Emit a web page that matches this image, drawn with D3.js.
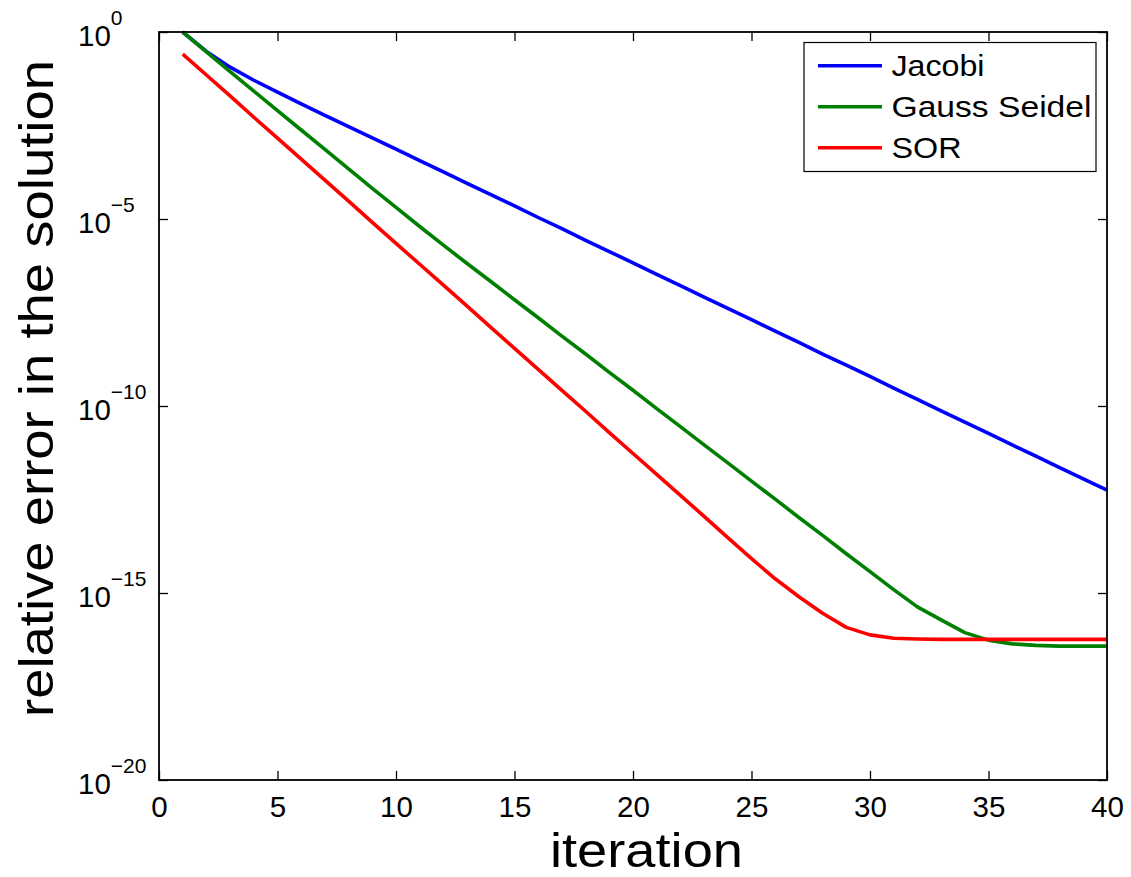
<!DOCTYPE html>
<html>
<head>
<meta charset="utf-8">
<script src="https://cdn.jsdelivr.net/npm/d3@7"></script>
<style>
  html, body { margin: 0; padding: 0; background: #fff; }
  svg { display: block; }
  text { font-family: "Liberation Sans", Arial, Helvetica, sans-serif; fill: #000; }
</style>
</head>
<body>
<svg id="chart" width="1131" height="877"></svg>
<script>
// Iteration counts
const iterations = [1, 2, 3, 4, 5, 6, 7, 8, 9, 10, 11, 12, 13, 14, 15, 16, 17, 18, 19, 20,
                    21, 22, 23, 24, 25, 26, 27, 28, 29, 30, 31, 32, 33, 34, 35, 36, 37, 38, 39, 40];

// log10 of the relative error in the solution, per method
const jacobiLog10 = [0, -0.52, -0.94, -1.29, -1.61, -1.92, -2.23, -2.53, -2.83, -3.13,
                     -3.44, -3.74, -4.05, -4.35, -4.65, -4.96, -5.26, -5.57, -5.87, -6.17,
                     -6.48, -6.78, -7.09, -7.39, -7.69, -8.00, -8.30, -8.61, -8.91, -9.21,
                     -9.52, -9.82, -10.13, -10.43, -10.73, -11.04, -11.34, -11.65, -11.95, -12.25];
const gaussSeidelLog10 = [0, -0.53, -1.06, -1.58, -2.10, -2.62, -3.14, -3.66, -4.18, -4.69,
                          -5.20, -5.70, -6.19, -6.67, -7.16, -7.64, -8.13, -8.61, -9.10, -9.58,
                          -10.07, -10.55, -11.04, -11.52, -12.01, -12.49, -12.98, -13.46, -13.95, -14.43,
                          -14.91, -15.37, -15.72, -16.06, -16.26, -16.36, -16.40, -16.42, -16.42, -16.42];
const sorLog10 = [-0.59, -1.15, -1.71, -2.28, -2.84, -3.40, -3.96, -4.52, -5.09, -5.65,
                  -6.21, -6.77, -7.33, -7.90, -8.46, -9.02, -9.58, -10.14, -10.71, -11.27,
                  -11.83, -12.39, -12.95, -13.52, -14.08, -14.62, -15.10, -15.54, -15.92, -16.12,
                  -16.21, -16.23, -16.24, -16.24, -16.24, -16.24, -16.24, -16.24, -16.24, -16.24];

const seriesNames = ["Jacobi", "Gauss Seidel", "SOR"];
const seriesColors = ["#0000ff", "#008000", "#ff0000"];

// Axis ticks
const xTicks = [0, 5, 10, 15, 20, 25, 30, 35, 40];
const yTickExponents = [0, -5, -10, -15, -20];

const svg = d3.select("#chart");
svg.append("rect").attr("width", 1131).attr("height", 877).attr("fill", "#fff");

const plotLeft = 159, plotRight = 1107, plotTop = 32, plotBottom = 780;

const x = d3.scaleLinear().domain([0, 40]).range([plotLeft, plotRight]);
const y = d3.scaleLog().domain([1e-20, 1]).range([plotBottom, plotTop]);

const series = [jacobiLog10, gaussSeidelLog10, sorLog10].map((vals, i) => ({
  name: seriesNames[i],
  color: seriesColors[i],
  points: iterations.map((it, j) => ({ it, v: Math.pow(10, vals[j]) }))
}));

// Lines
const line = d3.line().x(d => x(d.it)).y(d => y(d.v));
svg.append("g").selectAll("path").data(series).join("path")
  .attr("d", d => line(d.points))
  .attr("fill", "none")
  .attr("stroke", d => d.color)
  .attr("stroke-width", 3.6)
  .attr("stroke-linejoin", "round");

const yTickValues = yTickExponents.map(e => Math.pow(10, e));
const tickLen = 9;

// Bottom axis with labels
const gx = svg.append("g").attr("transform", `translate(0,${plotBottom})`)
  .call(d3.axisBottom(x).tickValues(xTicks).tickSize(-tickLen).tickSizeOuter(0).tickPadding(16.5).tickFormat(d3.format("d")));
gx.selectAll("text").attr("font-size", 29.5).attr("font-family", null);

// Top axis, ticks only
const gxt = svg.append("g").attr("transform", `translate(0,${plotTop})`)
  .call(d3.axisTop(x).tickValues(xTicks).tickSize(-tickLen).tickSizeOuter(0).tickFormat(""));

// Left axis with power-of-ten labels
const gy = svg.append("g").attr("transform", `translate(${plotLeft},0)`)
  .call(d3.axisLeft(y).tickValues(yTickValues).tickSize(-tickLen).tickSizeOuter(0).tickFormat(""));
gy.selectAll(".tick").each(function(d) {
  const e = Math.round(Math.log10(d));
  const t = d3.select(this).select("text")
    .attr("x", 78 - plotLeft).attr("y", 13).attr("dy", null)
    .attr("text-anchor", "start").attr("font-size", 29.5).attr("font-family", null);
  t.text(null);
  t.append("tspan").text("10");
  t.append("tspan").attr("dy", -20.5).attr("font-size", 21)
    .text(e === 0 ? "0" : "\u2212" + Math.abs(e));
});

// Right axis, ticks only
const gyr = svg.append("g").attr("transform", `translate(${plotRight},0)`)
  .call(d3.axisRight(y).tickValues(yTickValues).tickSize(-tickLen).tickSizeOuter(0).tickFormat(""));

[gx, gxt, gy, gyr].forEach(g => {
  g.select(".domain").remove();
  g.selectAll(".tick line").attr("stroke", "#000").attr("stroke-width", 1.3);
});

// Plot frame
svg.append("rect")
  .attr("x", plotLeft).attr("y", plotTop)
  .attr("width", plotRight - plotLeft).attr("height", plotBottom - plotTop)
  .attr("fill", "none").attr("stroke", "#000").attr("stroke-width", 1.8);

// Axis titles
svg.append("text")
  .attr("x", 646.5).attr("y", 866.5)
  .attr("text-anchor", "middle").attr("font-size", 48)
  .attr("textLength", 193).attr("lengthAdjust", "spacingAndGlyphs")
  .text("iteration");

svg.append("text")
  .attr("transform", "translate(53,388.5) rotate(-90)")
  .attr("text-anchor", "middle").attr("font-size", 48)
  .attr("textLength", 657).attr("lengthAdjust", "spacingAndGlyphs")
  .text("relative error in the solution");

// Legend
const legend = svg.append("g");
legend.append("rect")
  .attr("x", 804).attr("y", 42.5).attr("width", 292).attr("height", 129)
  .attr("fill", "#fff").attr("stroke", "#000").attr("stroke-width", 1.2);
const legendWidths = [93, 200, 70];
const items = legend.selectAll("g.item").data(series).join("g")
  .attr("class", "item")
  .attr("transform", (d, i) => `translate(0,${65.7 + i * 41})`);
items.append("line")
  .attr("x1", 818).attr("x2", 882).attr("y1", 0).attr("y2", 0)
  .attr("stroke", d => d.color).attr("stroke-width", 3.6);
items.append("text")
  .attr("x", 891.5).attr("y", 10.5)
  .attr("font-size", 29.5)
  .attr("textLength", (d, i) => legendWidths[i]).attr("lengthAdjust", "spacingAndGlyphs")
  .text(d => d.name);
</script>
</body>
</html>
